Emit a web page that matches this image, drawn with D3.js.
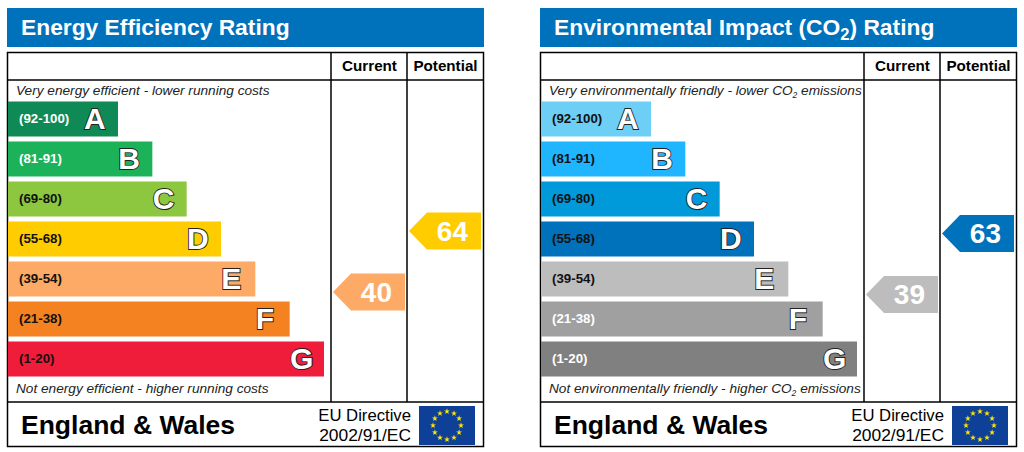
<!DOCTYPE html>
<html>
<head>
<meta charset="utf-8">
<script src="https://cdn.jsdelivr.net/npm/d3@7"></script>
<style>
  body { margin: 0; background: #fff; }
  text { font-family: "Liberation Sans", Arial, sans-serif; }
</style>
</head>
<body>
<div id="svg-area"></div>
<script>
// Bands, top to bottom
var bandLetters = ['A', 'B', 'C', 'D', 'E', 'F', 'G'];
var bandRanges = ['(92-100)', '(81-91)', '(69-80)', '(55-68)', '(39-54)', '(21-38)', '(1-20)'];
var bandRanks = [1, 2, 3, 4, 5, 6, 7];

// Energy panel
var energyColors = ['#0f8a56', '#1cb25a', '#8dc63f', '#ffcc00', '#fcaa65', '#f58220', '#ef1c3a'];
var energyLabelColors = ['#fff', '#fff', '#111', '#111', '#111', '#111', '#111'];
var energyScores = [40, 64];

// Environmental panel
var co2Colors = ['#6dcff6', '#1fb6ff', '#0099da', '#0072bc', '#bdbdbd', '#a0a0a0', '#808080'];
var co2LabelColors = ['#111', '#111', '#111', '#111', '#111', '#fff', '#fff'];
var co2Scores = [39, 63];

var columnNames = ['Current', 'Potential'];

var svg = d3.select('#svg-area').append('svg')
    .attr('width', 1024)
    .attr('height', 452);

// shared scales, relative to each panel
var yBand = d3.scaleBand().domain(bandLetters).range([101.5, 376.5]).paddingInner(0.125).paddingOuter(0);
var xBand = d3.scaleLinear().domain([1, 7]).range([110, 316]);
var yScore = d3.scaleLinear().domain([64, 40]).range([231, 292]);

function drawText(g, x, y, str, size, opts) {
    opts = opts || {};
    return g.append('text')
        .attr('x', x)
        .attr('y', y)
        .attr('font-size', size)
        .attr('font-weight', opts.bold ? 'bold' : null)
        .attr('font-style', opts.italic ? 'italic' : null)
        .attr('text-anchor', opts.anchor || 'start')
        .attr('fill', opts.fill || '#000')
        .text(str);
}

function drawFlag(g) {
    var flagX = 419, flagY = 406, flagW = 56, flagH = 39;
    g.append('rect')
        .attr('x', flagX).attr('y', flagY)
        .attr('width', flagW).attr('height', flagH)
        .attr('fill', '#0f4098');
    var star = d3.symbol().type(d3.symbolStar).size(11);
    g.selectAll('.star')
        .data(d3.range(12))
        .enter()
        .append('path')
        .attr('class', 'star')
        .attr('d', star)
        .attr('fill', '#ffe600')
        .attr('transform', function(d) {
            var a = d / 12 * 2 * Math.PI;
            return 'translate(' + (flagX + 28 + 14 * Math.sin(a)) + ',' + (flagY + 19.5 - 14 * Math.cos(a)) + ')';
        });
}

function drawPanel(offset, title, colors, labelColors, scores, topNote, bottomNote) {
    var g = svg.append('g').attr('transform', 'translate(' + offset + ',0)');

    // header
    g.append('rect')
        .attr('x', 7).attr('y', 8)
        .attr('width', 477).attr('height', 39)
        .attr('fill', '#0071bb');
    var head = drawText(g, 21, 35, '', 22.8, { bold: true, fill: '#fff' });
    title.forEach(function(t) {
        var span = head.append('tspan').text(t.s);
        if (t.sub) span.attr('font-size', 16.5).attr('dy', 5);
        if (t.after) span.attr('dy', -5);
    });

    // frame
    g.append('rect')
        .attr('x', 7.5).attr('y', 52.5)
        .attr('width', 476).attr('height', 394)
        .attr('fill', '#fff').attr('stroke', '#000').attr('stroke-width', 1.5);
    [[7.5, 80, 483.5, 80], [7.5, 402, 483.5, 402], [331, 52.5, 331, 402], [407, 52.5, 407, 402]].forEach(function(l) {
        g.append('line')
            .attr('x1', l[0]).attr('y1', l[1]).attr('x2', l[2]).attr('y2', l[3])
            .attr('stroke', '#000').attr('stroke-width', 1.5);
    });

    // column heads
    drawText(g, 369.5, 71, columnNames[0], 15.2, { bold: true, anchor: 'middle' });
    drawText(g, 445.5, 71, columnNames[1], 15.2, { bold: true, anchor: 'middle' });

    // notes
    topNote(g);
    bottomNote(g);

    // bars
    g.selectAll('.bar')
        .data(bandRanks)
        .enter()
        .append('rect')
        .attr('class', 'bar')
        .attr('x', 8)
        .attr('y', function(d, i) { return yBand(bandLetters[i]); })
        .attr('width', function(d) { return xBand(d); })
        .attr('height', yBand.bandwidth())
        .attr('fill', function(d, i) { return colors[i]; });

    bandRanges.forEach(function(r, i) {
        drawText(g, 19, yBand(bandLetters[i]) + 21.5, r, 13.3, { bold: true, fill: labelColors[i] });
    });

    g.selectAll('.letter')
        .data(bandRanks)
        .enter()
        .append('text')
        .attr('class', 'letter')
        .attr('x', function(d) { return 8 + xBand(d) - 34; })
        .attr('y', function(d, i) { return yBand(bandLetters[i]) + 27; })
        .attr('font-size', 30)
        .attr('font-weight', 'bold')
        .attr('fill', '#fff')
        .attr('stroke', '#222')
        .attr('stroke-width', 1.8)
        .attr('paint-order', 'stroke')
        .text(function(d, i) { return bandLetters[i]; });

    // score arrows
    var arrowCols = [{ tip: 333, right: 405 }, { tip: 409, right: 481 }];
    scores.forEach(function(s, i) {
        var c = arrowCols[i];
        var cy = yScore(s);
        var band = bandRanges.findIndex(function(r) {
            var p = r.replace(/[()]/g, '').split('-');
            return s >= +p[0] && s <= +p[1];
        });
        g.append('path')
            .attr('d', d3.line()([[c.tip, cy], [c.tip + 18, cy - 18.5], [c.right, cy - 18.5], [c.right, cy + 18.5], [c.tip + 18, cy + 18.5]]) + 'Z')
            .attr('fill', colors[band]);
        drawText(g, c.right - 13, cy + 9.5, s, 28, { bold: true, anchor: 'end', fill: '#fff' });
    });

    // footer
    drawText(g, 21, 433.5, 'England & Wales', 26.5, { bold: true });
    drawText(g, 411, 421, 'EU Directive', 16.7, { anchor: 'end' });
    drawText(g, 411, 441, '2002/91/EC', 17.4, { anchor: 'end' });
    drawFlag(g);
}

function plainNote(str, y) {
    return function(g) {
        drawText(g, 16, y, str, 13.65, { italic: true, fill: '#222' });
    };
}

function co2Note(before, after, y) {
    return function(g) {
        var t = drawText(g, 16, y, before, 13.65, { italic: true, fill: '#222' });
        t.append('tspan').attr('font-size', 8.5).attr('dy', 3).text('2');
        t.append('tspan').attr('dy', -3).text(after);
    };
}

drawPanel(0, [{ s: 'Energy Efficiency Rating' }], energyColors, energyLabelColors, energyScores,
    plainNote('Very energy efficient - lower running costs', 95),
    plainNote('Not energy efficient - higher running costs', 393));

drawPanel(533, [{ s: 'Environmental Impact (CO' }, { s: '2', sub: true }, { s: ') Rating', after: true }],
    co2Colors, co2LabelColors, co2Scores,
    co2Note('Very environmentally friendly - lower CO', ' emissions', 95),
    co2Note('Not environmentally friendly - higher CO', ' emissions', 393));
</script>
</body>
</html>
